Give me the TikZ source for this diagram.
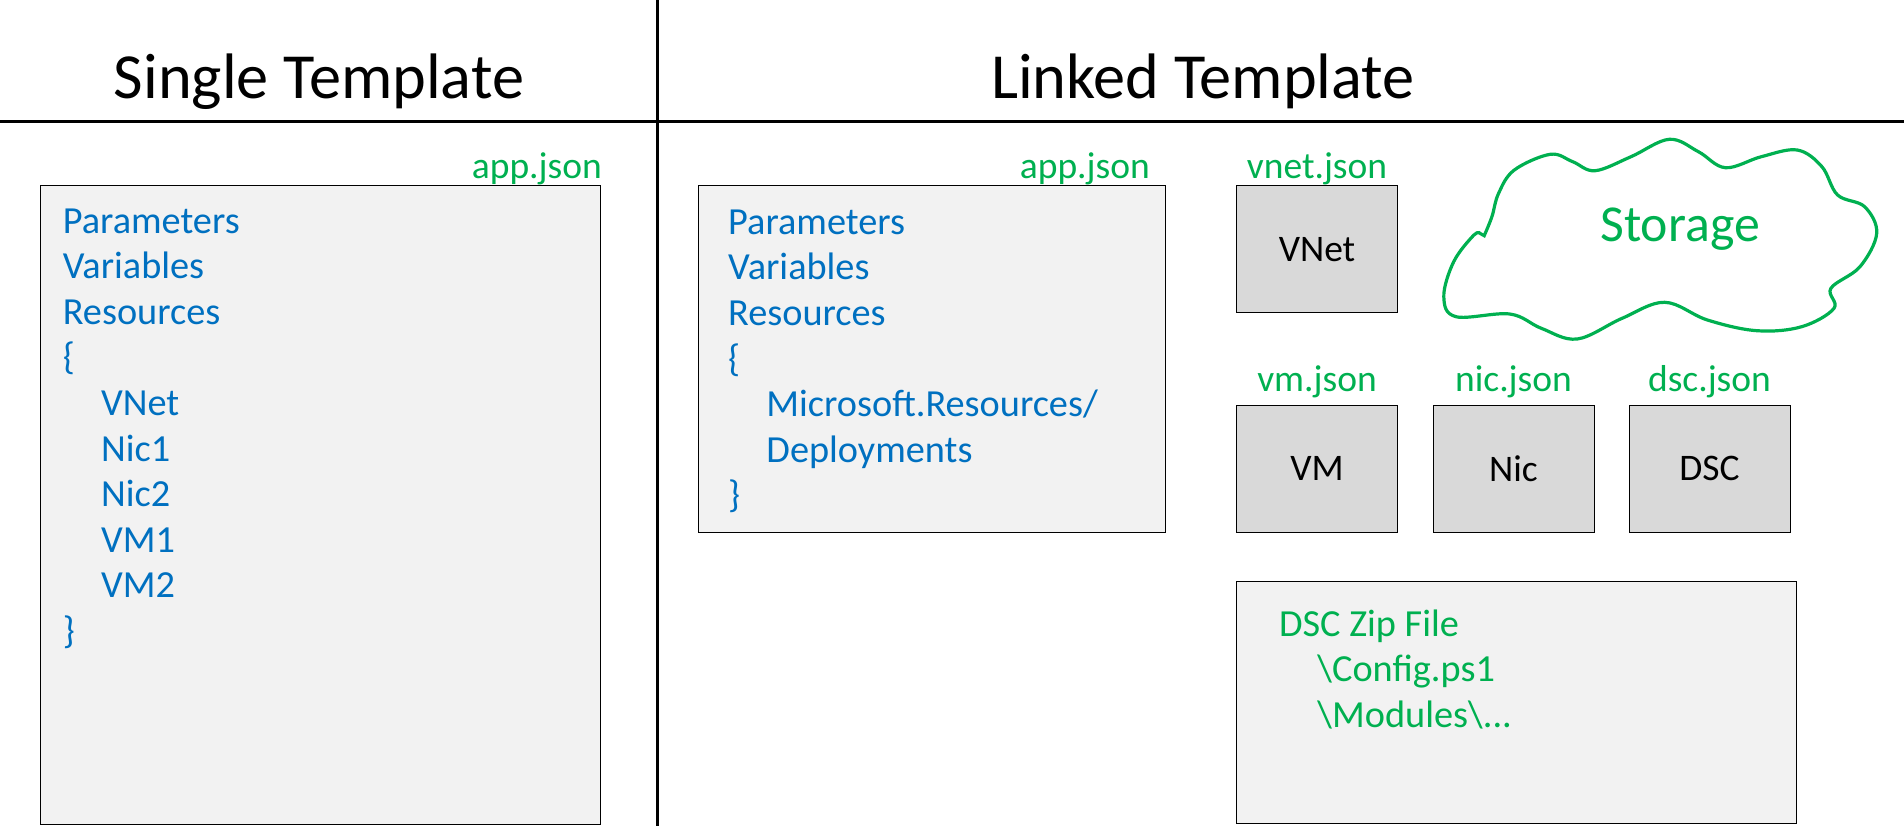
\documentclass[tikz,border=0pt]{standalone}
\usepackage{fontspec}
\setmainfont{Carlito}
\usetikzlibrary{positioning}

\begin{document}
\begin{tikzpicture}[x=1pt, y=-1pt,
  lightbox/.style={draw=black, fill=lightLT, line width=1pt, inner sep=0pt},
  greybox/.style={draw=black, fill=greyLT, line width=1pt, inner sep=0pt, minimum width=161pt, minimum height=127pt, font=\fontsize{37.5}{45.6}\selectfont},
  rule/.style={line width=3.4pt},
  heading/.style={inner sep=0pt, anchor=base, font=\fontsize{64.3}{70}\selectfont},
  filelabel/.style={inner sep=0pt, anchor=base, text=greenLT, font=\fontsize{37.5}{45.6}\selectfont},
  listing/.style={inner sep=0pt, anchor=north west, align=left, font=\fontsize{38.3}{45.6}\selectfont}]

\definecolor{lightLT}{HTML}{f2f2f2}
\definecolor{greyLT}{HTML}{d9d9d9}
\definecolor{blueLT}{HTML}{0070c0}
\definecolor{greenLT}{HTML}{00b050}

\useasboundingbox (0,0) rectangle (1904,838);

\coordinate (ruleTop) at (657.6,0);
\coordinate (ruleBottom) at (657.6,826);
\coordinate (ruleLeft) at (0,121.5);
\coordinate (ruleRight) at (1904,121.5);
\draw[rule] (ruleTop) -- (ruleBottom);
\draw[rule] (ruleLeft) -- (ruleRight);

\node[heading] (single) at (319,98) {Single Template};
\node[heading] (linked) at (1203,98) {Linked Template};

% left column
\node[lightbox, minimum width=559.5pt, minimum height=639.5pt] (appSingle) at (320.4,505) {};
\node[filelabel, anchor=base east] (appSingleName) at (602,178) {app.json};
\node[listing, text=blueLT, below right=23.5pt and 22.5pt of appSingle.north west, anchor=north west] (appSingleText) {Parameters\\Variables\\Resources\\\{\\\hspace*{1em}VNet\\\hspace*{1em}Nic1\\\hspace*{1em}Nic2\\\hspace*{1em}VM1\\\hspace*{1em}VM2\\\}};

% right column
\node[lightbox, minimum width=466.5pt, minimum height=347pt] (appLinked) at (932.2,358.5) {};
\node[filelabel, anchor=base east] (appLinkedName) at (1150,178) {app.json};
\node[listing, text=blueLT, below right=25pt and 29.5pt of appLinked.north west, anchor=north west] (appLinkedText) {Parameters\\Variables\\Resources\\\{\\\hspace*{1em}Microsoft.Resources/\\\hspace*{1em}Deployments\\\}};

\node[greybox] (vnet) at (1317,249.3) {VNet};
\node[greybox] (vm) at (1317,468.8) {VM};
\node[greybox] (nic) at (1513.5,468.8) {Nic};
\node[greybox] (dsc) at (1709.5,468.8) {DSC};

\foreach \part/\y in {vnet/178, vm/391, nic/391, dsc/391} {
 \node[filelabel] (\part Name) at (\part.north |- 0,\y) {\part.json};
}

\node[lightbox, minimum width=560.5pt, minimum height=241.6pt] (zip) at (1516.6,702.5) {};
\node[listing, text=greenLT, below right=28pt and 43pt of zip.north west, anchor=north west] (zipText) {DSC Zip File\\\hspace*{1em}\textbackslash Config.ps1\\\hspace*{1em}\textbackslash Modules\textbackslash ...};

% cloud
\draw[greenLT, line width=3.2pt, smooth, tension=.6] plot coordinates {
 (1484.2,235.7) (1491.9,216.7) (1498.6,193.3) (1514.3,170) (1550.3,154.3) (1572.7,161.7)
 (1595.1,170.7) (1631,156.7) (1669.2,139.3) (1698.4,151.7) (1725.4,167.7) (1761.3,156.7)
 (1797.2,150) (1821.9,166.7) (1837.6,195) (1864.6,206.7) (1876.7,233.3) (1860,266.7)
 (1830.9,288.3) (1834,308.3) (1801.7,326.7) (1756.8,330.7) (1707.4,320) (1664.7,302.3)
 (1622.1,318.3) (1577.2,339) (1541.3,328.3) (1509.8,314) (1456,316.7) (1443.8,296.7)
 (1453.7,261.7) (1473.9,235) (1480.6,233.7)} -- cycle;
\node[inner sep=0pt, text=greenLT, font=\fontsize{51.8}{60}\selectfont] (storage) at (1680,229) {Storage};

\end{tikzpicture}
\end{document}
